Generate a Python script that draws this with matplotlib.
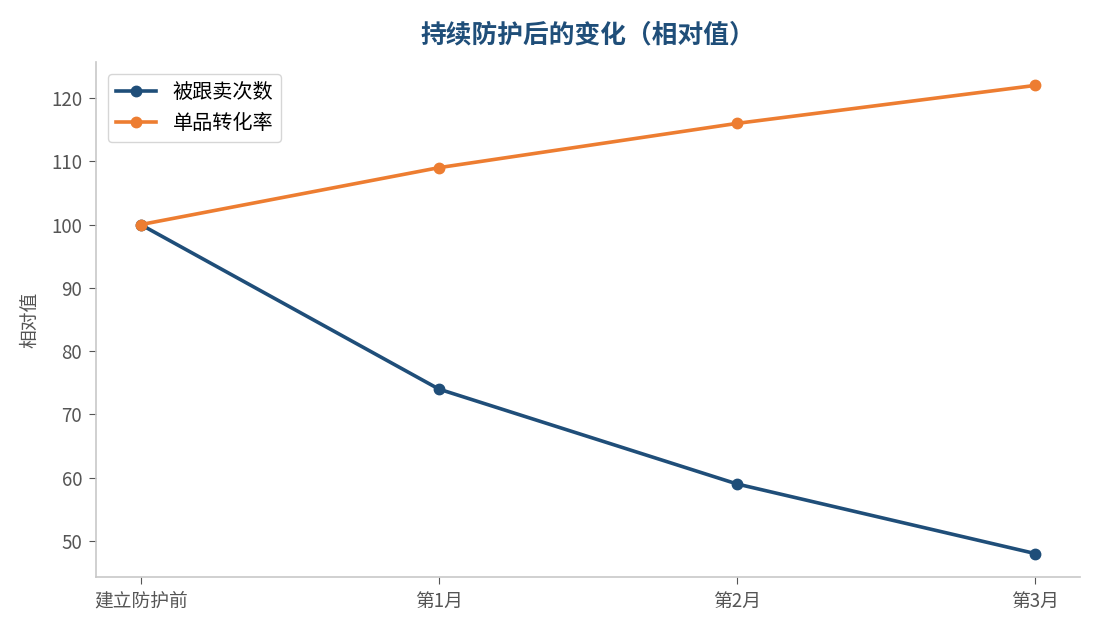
import matplotlib
matplotlib.use("Agg")
import matplotlib.pyplot as plt

plt.rcParams['font.family'] = ['Noto Sans CJK SC', 'DejaVu Sans']

categories = ["建立防护前", "第1月", "第2月", "第3月"]
hijack_counts = [100, 74, 59, 48]
conversion = [100, 109, 116, 122]
series_names = ["被跟卖次数", "单品转化率"]

fig = plt.figure(figsize=(10.95, 6.3), dpi=100)
ax = fig.add_axes([96/1095, 1-577/630, (1080-96)/1095, (577-62)/630])

x = list(range(len(categories)))
ax.plot(x, hijack_counts, color="#1f4e79", lw=2.6, marker="o", ms=7.5, label=series_names[0])
ax.plot(x, conversion, color="#ed7d31", lw=2.6, marker="o", ms=7.5, label=series_names[1])

ax.set_xticks(x)
ax.set_xticklabels(categories)
ax.set_yticks([50, 60, 70, 80, 90, 100, 110, 120])
ax.tick_params(axis='both', labelsize=13.5, colors="#555555", length=5, pad=5)
for s in ["top", "right"]:
    ax.spines[s].set_visible(False)
for s in ["left", "bottom"]:
    ax.spines[s].set_color("#c8c8c8")
    ax.spines[s].set_linewidth(1.2)

ax.set_ylabel("相对值", fontsize=13.5, color="#555555", labelpad=8)
ax.set_title("持续防护后的变化（相对值）", fontsize=18.5, fontweight="bold", color="#1f4e79", pad=14)

leg = ax.legend(loc="upper left", fontsize=14.5, frameon=True, borderaxespad=0.6)
leg.get_frame().set_edgecolor("#cccccc")

fig.savefig("out.png", dpi=100)
